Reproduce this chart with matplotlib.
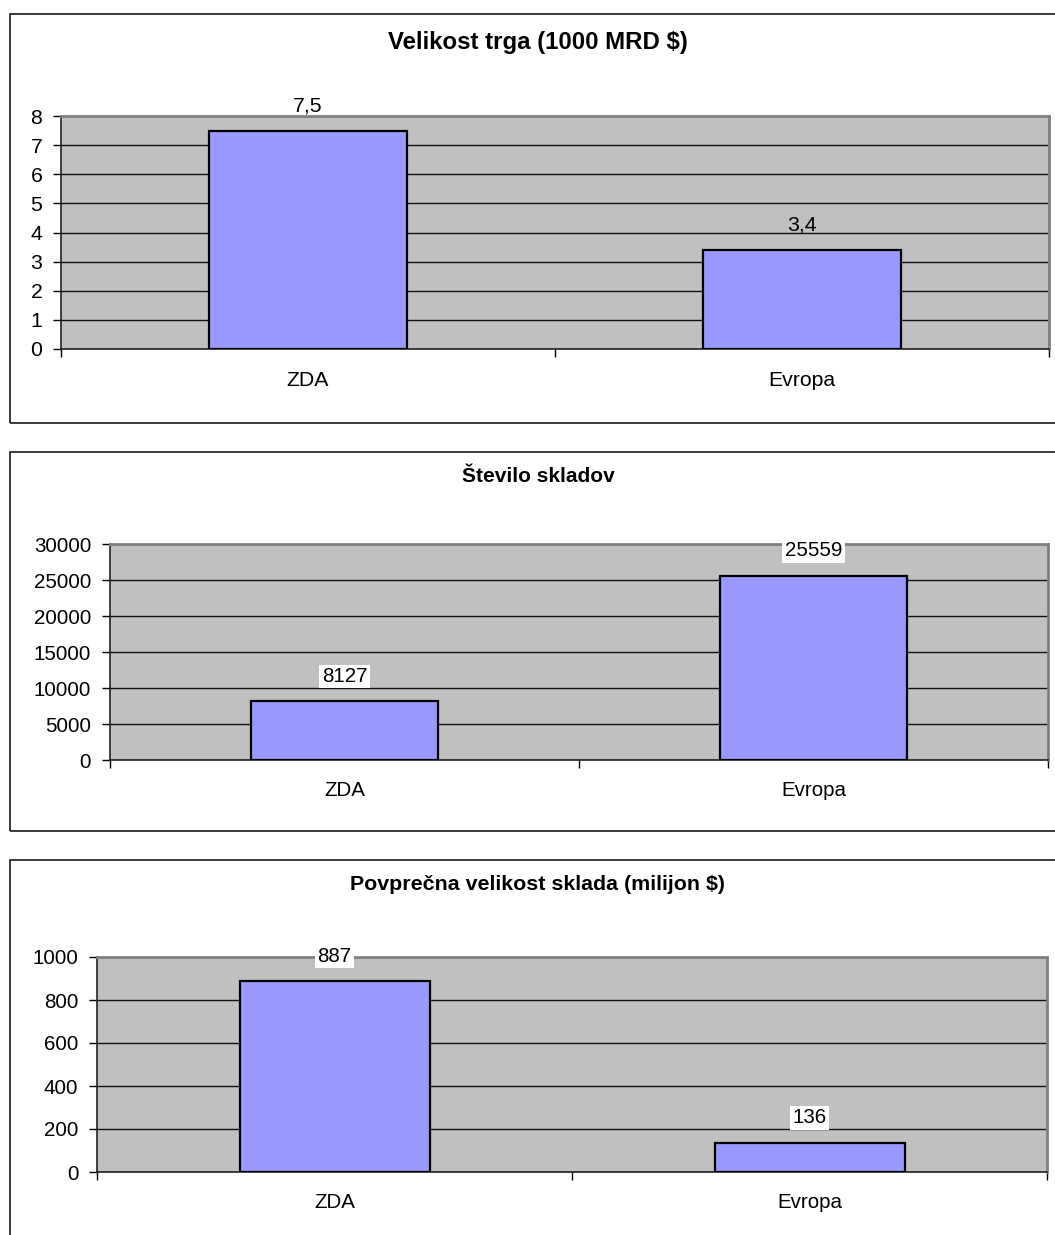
import matplotlib
matplotlib.use("Agg")
import matplotlib.pyplot as plt
from matplotlib.patches import Rectangle

plt.rcParams['font.family'] = ['Liberation Sans', 'DejaVu Sans']

categories = ["ZDA", "Evropa"]

market_size = [7.5, 3.4]          # 1000 MRD $
fund_count = [8127, 25559]
avg_fund_size = [887, 136]        # milijon $

titles = ["Velikost trga (1000 MRD $)", "Število skladov",
          "Povprečna velikost sklada (milijon $)"]
y_ticks = [list(range(0, 9, 1)), list(range(0, 30001, 5000)), list(range(0, 1001, 200))]
value_texts = [["7,5", "3,4"], ["8127", "25559"], ["887", "136"]]

W, H = 1055, 1235
fig = plt.figure(figsize=(W / 100, H / 100), dpi=100)

BAR_COLOR = "#9999FF"
PLOT_BG = "#C0C0C0"


def fx(px):
    return px / W


def fy(py):
    return 1 - py / H


# panel frames: (top, bottom) in pixels; right side runs past the canvas
frames = [(14, 423), (452, 831), (860, 1240)]
for top, bottom in frames:
    fig.patches.append(Rectangle((fx(9.5), fy(bottom)), fx(1100), fy(top) - fy(bottom),
                                 transform=fig.transFigure, fill=False,
                                 edgecolor="#1a1a1a", linewidth=1.2, zorder=0))

# plot areas: (left, right, top, bottom) in pixels
areas = [(61, 1049, 116, 349), (110, 1048, 544, 760), (97, 1047, 957, 1172)]
title_y = [42, 477, 885]
title_size = [17.3, 15, 15.4]
text_size = [15.3, 14.8, 14.8]
label_boxes = [False, True, True]
datasets = [market_size, fund_count, avg_fund_size]

for i, (l, r, t, b) in enumerate(areas):
    ax = fig.add_axes([fx(l), fy(b), fx(r) - fx(l), fy(t) - fy(b)])
    vals = datasets[i]
    fs = text_size[i]
    ax.set_facecolor(PLOT_BG)
    ax.set_axisbelow(True)
    xs = list(range(len(categories)))
    ax.bar(xs, vals, width=0.4, color=BAR_COLOR, edgecolor="black", linewidth=1.6, zorder=3)
    ax.set_xlim(-0.5, len(categories) - 0.5)
    ax.set_ylim(y_ticks[i][0], y_ticks[i][-1])
    ax.set_yticks(y_ticks[i])
    ax.set_yticklabels([str(v) for v in y_ticks[i]], fontsize=fs)
    ax.yaxis.grid(True, color="#101010", linewidth=1.0)
    ax.tick_params(axis="y", length=6, width=1, direction="out", pad=7.5)

    ax.set_xticks([x - 0.5 for x in xs] + [xs[-1] + 0.5])
    ax.set_xticklabels([])
    ax.tick_params(axis="x", length=6, width=1, direction="out")
    for x, c in zip(xs, categories):
        ax.annotate(c, xy=(x, 0), xycoords=("data", "axes fraction"),
                    xytext=(0, -31), textcoords="offset pixels",
                    ha="center", va="center", fontsize=fs)

    for s in ("top", "right"):
        ax.spines[s].set_color("#808080")
        ax.spines[s].set_linewidth(2)
    ax.spines["left"].set_color("#222222")
    ax.spines["bottom"].set_color("#222222")
    ax.spines["left"].set_linewidth(1.2)
    ax.spines["bottom"].set_linewidth(1.2)

    for x, v, txt in zip(xs, vals, value_texts[i]):
        kw = {}
        if label_boxes[i]:
            kw["bbox"] = dict(boxstyle="square,pad=0.12", facecolor="white", edgecolor="none")
        ax.annotate(txt, xy=(x, v), xytext=(0, 25), textcoords="offset pixels",
                    ha="center", va="center", fontsize=fs, zorder=5,
                    annotation_clip=False, **kw)

    fig.text(fx(538), fy(title_y[i]), titles[i], ha="center", va="center",
             fontsize=title_size[i], fontweight="bold")

fig.savefig("out.png", dpi=100)
